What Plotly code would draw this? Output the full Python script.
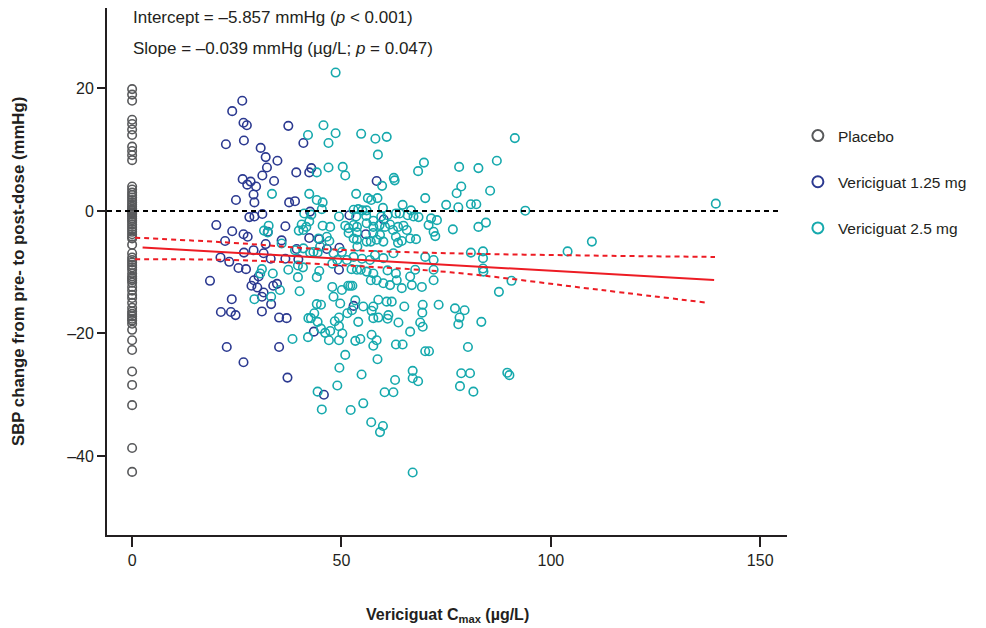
import plotly.graph_objects as go

# ---------------- data ----------------
placebo_y = [19.9, 19.0, 18.0, 14.9, 14.2, 13.3, 12.4, 10.5, 9.8, 9.1, 8.3,
             4.0, 3.5, 3.0, 2.6, 2.2, 1.8, 1.4, 1.0, 0.7, 0.4, 0.2, 0.0, -0.2, -0.4,
             -0.6, -0.9, -1.2, -1.5, -1.8, -2.2, -2.6, -3.0, -3.4, -3.8, -4.2, -4.5,
             -5.5, -6.9, -7.6, -8.0, -8.4, -8.8, -9.2, -9.6, -10.2, -10.7, -11.0, -11.3,
             -11.7, -12.4, -13.0, -13.7, -14.2, -15.0, -15.8, -16.4, -16.8, -17.2, -17.6,
             -17.9, -18.4, -19.4, -21.1, -22.7, -26.2, -28.4, -31.7, -38.7, -42.6]
placebo_x = [0] * len(placebo_y)

low_x = [26.3, 23.9, 26.6, 27.4, 22.4, 26.7, 30.7, 31.9, 34.7, 32.2, 31.1, 33.9,
         26.4, 27.5, 28.3, 29.6, 29.0, 29.2, 24.8, 37.3, 40.9, 39.2, 42.3, 42.8,
         37.5, 38.9, 42.5, 58.4, 51.9, 60.1, 55.8, 28.0, 29.2, 31.1, 20.1, 23.9,
         26.6, 27.6, 32.4, 36.6, 22.2, 31.9, 35.7, 42.3, 44.7, 26.7, 29.0, 31.4,
         21.1, 23.2, 25.4, 27.2, 33.1, 36.6, 39.3, 39.7, 46.5, 49.5, 49.4, 18.6,
         29.1, 30.2, 29.9, 31.4, 28.5, 33.7, 34.6, 23.8, 31.0, 33.2, 52.9,
         21.2, 23.6, 24.7, 31.0, 35.1, 36.9, 22.6, 35.1, 26.6, 37.1, 43.4, 45.8]
low_y = [18.0, 16.3, 14.4, 14.0, 10.9, 11.5, 10.3, 8.8, 8.2, 7.1, 5.8, 4.9,
         5.2, 4.3, 4.8, 4.0, 2.7, 1.4, 1.8, 13.9, 11.1, 6.3, 6.3, 7.0,
         1.4, 1.6, -0.1, 4.9, -0.7, -1.4, -3.8, -1.0, -0.9, -0.5, -2.3, -3.3,
         -3.8, -4.2, -3.4, -2.5, -4.9, -5.4, -4.8, -4.4, -4.6, -6.8, -6.4, -6.9,
         -7.6, -8.3, -9.3, -9.5, -7.8, -7.8, -6.2, -7.9, -6.2, -6.0, -9.6, -11.4,
         -11.3, -10.7, -12.5, -13.3, -12.2, -12.2, -11.9, -14.4, -14.0, -15.2, -15.5,
         -16.5, -16.5, -17.0, -16.4, -17.4, -17.5, -22.2, -22.2, -24.7, -27.2, -19.7, -30.0]

high_x = [48.6, 45.7, 42.0, 48.6, 46.9, 54.7, 58.1, 60.8, 58.7, 46.9, 50.3, 50.9,
          44.1, 62.5, 62.7, 59.7, 68.3, 69.7, 33.4, 42.3, 44.1, 45.5, 45.3, 53.5,
          56.3, 57.1, 58.6, 59.9, 64.6, 66.6, 70.0, 75.0, 41.1, 42.8, 49.4, 52.9,
          54.0, 55.0, 56.0, 53.5, 55.9, 57.6, 59.5, 61.0, 63.0, 63.9, 65.8, 67.2,
          68.4, 71.4, 72.8, 42.3, 40.5, 41.6, 40.9, 39.8, 32.6, 31.5, 32.4, 45.5,
          47.3, 50.9, 51.7, 52.9, 53.7, 51.7, 53.7, 52.9, 56.0, 57.6, 59.1, 60.4,
          61.6, 62.3, 63.5, 64.8, 65.6, 70.8, 72.0, 72.4, 57.6, 59.2, 58.4, 60.0,
          57.0, 56.0, 53.7, 53.8, 44.5, 46.5, 47.1, 35.7, 38.9, 40.9, 42.5, 43.3,
          44.9, 44.3, 48.1, 50.1, 49.0, 51.3, 52.9, 54.9, 56.8, 58.0, 60.0, 62.4,
          63.5, 64.4, 63.0, 66.4, 67.8, 70.0, 72.0, 72.0, 67.6, 66.4, 69.2, 72.0,
          31.0, 30.6, 33.6, 35.3, 37.3, 39.6, 39.6, 40.0, 29.2, 33.2,
          40.8, 44.1, 44.7, 47.8, 47.8, 50.1, 51.6, 52.1, 52.6,
          52.4, 53.7, 54.6, 56.0, 57.6, 57.0, 58.4, 60.0, 61.6, 63.2, 64.4, 66.8,
          63.0, 61.0, 45.1, 48.1, 49.7, 53.3, 55.2, 57.6, 58.8, 60.8, 62.0, 65.0,
          69.4, 73.2, 57.2, 57.6, 58.8, 61.0, 61.2, 69.3, 51.4, 52.5, 49.4, 54.0,
          48.4, 49.4, 50.2, 49.4, 42.1, 42.7, 43.5, 44.3, 45.1, 46.1, 47.3, 47.0,
          44.1, 42.0, 38.3, 53.3, 54.5, 57.2, 58.4, 57.6, 63.6, 66.4, 68.8, 69.4,
          63.0, 64.6, 70.0, 70.9, 50.9, 58.6, 49.5, 54.8, 62.8, 67.0, 67.0, 68.3,
          49.0, 44.3, 45.3, 52.2, 55.2, 60.3, 62.4, 57.1, 59.9, 59.2, 67.0,
          80.9, 83.8, 83.8, 83.8, 83.9, 104.0, 90.6, 87.6, 77.1, 79.4, 78.2, 77.9,
          83.4, 80.2, 78.6, 80.7, 78.3, 81.5, 89.6, 90.1,
          91.4, 87.1, 82.7, 78.1, 85.5, 78.6, 77.5, 77.9, 80.9, 82.2, 93.9, 82.7,
          84.5, 76.6, 109.8, 139.4]
high_y = [22.6, 14.0, 12.4, 12.7, 11.1, 12.6, 11.8, 12.1, 9.2, 7.1, 7.2, 5.8,
          6.3, 5.4, 5.0, 4.1, 6.5, 7.9, 2.8, 2.8, 1.8, 1.4, 0.3, 2.8,
          2.1, 1.8, 2.1, 0.5, 1.0, 0.1, 2.1, 1.0, -0.4, -0.6, -0.9, 0.2,
          0.3, 0.1, 0.1, -0.9, -0.8, -1.6, -0.9, -0.7, -0.4, -0.4, -0.7, -0.9,
          -1.0, -1.2, -1.5, -1.7, -2.2, -2.6, -3.1, -3.2, -2.4, -3.2, -3.5, -2.4,
          -2.6, -2.4, -2.8, -2.3, -2.6, -3.6, -3.5, -4.5, -2.0, -2.6, -2.3, -2.6,
          -2.2, -3.1, -2.6, -2.4, -3.1, -2.3, -3.4, -4.1, -3.6, -3.9, -4.7, -5.0,
          -5.0, -5.0, -4.7, -5.8, -4.5, -4.2, -4.9, -5.3, -6.4, -6.1, -6.8, -6.7,
          -5.8, -6.8, -6.9, -6.7, -8.0, -8.0, -7.5, -7.8, -8.0, -7.2, -7.7, -6.9,
          -5.2, -4.9, -4.2, -4.5, -4.6, -7.5, -8.0, -9.6, -9.6, -10.7, -12.4, -11.3,
          -9.5, -10.2, -10.2, -12.9, -9.6, -8.9, -10.8, -13.1, -14.4, -14.0,
          -9.2, -10.8, -9.8, -8.6, -12.4, -12.9, -12.2, -12.2, -12.2,
          -9.5, -9.6, -9.6, -9.9, -10.2, -11.3, -11.3, -11.8, -12.1, -11.3, -12.6, -12.1,
          -10.2, -9.7, -15.3, -14.0, -15.1, -14.6, -15.6, -15.6, -14.5, -14.8, -14.8, -15.6,
          -15.3, -15.3, -16.3, -17.5, -17.4, -17.6, -17.0, -16.6, -16.7, -16.2, -17.4, -18.1,
          -18.0, -18.8, -20.0, -21.1, -17.5, -17.5, -16.7, -18.1, -19.2, -19.9, -19.6, -21.1,
          -15.2, -20.6, -20.9, -21.2, -20.9, -20.2, -21.1, -22.0, -18.2, -19.7, -18.2, -18.9,
          -21.8, -21.8, -22.9, -22.9, -23.5, -24.2, -25.6, -26.7, -27.6, -26.1, -27.3, -27.8,
          -28.5, -29.5, -32.4, -32.5, -31.4, -29.6, -29.6, -34.5, -35.1, -36.1, -42.7,
          -6.8, -6.6, -7.7, -9.4, -9.9, -6.6, -11.4, -13.2, -15.9, -16.2, -17.4, -18.5,
          -18.1, -22.2, -26.5, -26.5, -28.6, -29.5, -26.4, -26.8,
          11.9, 8.2, 7.0, 7.2, 3.3, 4.0, 2.9, 0.6, 1.1, 1.1, 0.05, -2.6,
          -1.9, -3.0, -5.0, 1.2]

fit_x = [2.5, 139.0]
fit_y = [-5.95, -11.28]
ci_up_x = [0.7, 24.0, 40.0, 48.0, 76.0, 112.0, 139.2]
ci_up_y = [-4.35, -5.2, -6.0, -6.3, -6.9, -7.3, -7.5]
ci_lo_x = [0.7, 24.0, 48.0, 76.0, 112.0, 137.6]
ci_lo_y = [-7.9, -8.0, -8.8, -10.0, -12.9, -15.0]
zero_x = [-6.0, 155.0]
zero_y = [0, 0]

x_ticks = [0, 50, 100, 150]
x_ticklabels = ["0", "50", "100", "150"]
y_ticks = [20, 0, -20, -40]
y_ticklabels = ["20", "0", "\u201320", "\u201340"]

names = ["Placebo", "Vericiguat 1.25 mg", "Vericiguat 2.5 mg"]
colors = ["#58595b", "#2b3990", "#16a9ad"]

# ---------------- figure ----------------
FONT = "Liberation Sans, Arial, sans-serif"
RED = "#ed1c24"
INK = "#231f20"
PLOT_H = 527  # plot area height in px

fig = go.Figure()
for i, (xs, ys) in enumerate([(placebo_x, placebo_y), (low_x, low_y), (high_x, high_y)]):
    fig.add_trace(go.Scatter(
        x=xs, y=ys, mode="markers", name=names[i], legendgroup=names[i],
        showlegend=False,
        marker=dict(symbol="circle-open", size=8.5, color=colors[i],
                    line=dict(width=1.6, color=colors[i])),
    ))
    # legend entry with a slightly larger symbol (as in the reference legend)
    fig.add_trace(go.Scatter(
        x=[None], y=[None], mode="markers", name=names[i], legendgroup=names[i],
        marker=dict(symbol="circle-open", size=11, color=colors[i],
                    line=dict(width=2, color=colors[i])),
    ))

fig.add_trace(go.Scatter(x=zero_x, y=zero_y, mode="lines", showlegend=False,
                         line=dict(color="black", width=2, dash="5px,4px")))
fig.add_trace(go.Scatter(x=ci_up_x, y=ci_up_y, mode="lines", showlegend=False,
                         line=dict(color=RED, width=2, dash="5px,4px", shape="spline")))
fig.add_trace(go.Scatter(x=ci_lo_x, y=ci_lo_y, mode="lines", showlegend=False,
                         line=dict(color=RED, width=2, dash="5px,4px", shape="spline")))
fig.add_trace(go.Scatter(x=fit_x, y=fit_y, mode="lines", showlegend=False,
                         line=dict(color=RED, width=2)))

fig.update_layout(
    width=978, height=620,
    margin=dict(l=99, r=199, t=0, b=93),
    paper_bgcolor="white", plot_bgcolor="white",
    font=dict(family=FONT, size=16, color=INK),
    showlegend=True,
    legend=dict(x=1.016, xanchor="left", y=1 - 111 / PLOT_H, yanchor="top",
                font=dict(family=FONT, size=15.5, color=INK),
                tracegroupgap=23, itemsizing="trace",
                bgcolor="rgba(0,0,0,0)"),
    xaxis=dict(range=[-6.0, 156.4], showgrid=False, zeroline=False,
               showline=True, linecolor=INK, linewidth=1.8,
               ticks="outside", ticklen=10, tickwidth=1.8, tickcolor=INK,
               tickvals=x_ticks, ticktext=x_ticklabels,
               tickfont=dict(family=FONT, size=16, color=INK)),
    yaxis=dict(range=[-52.9, 33.14], showgrid=False, zeroline=False,
               showline=True, linecolor=INK, linewidth=1.8,
               ticks="outside", ticklen=8, tickwidth=1.8, tickcolor=INK,
               tickvals=y_ticks, ticktext=y_ticklabels,
               tickfont=dict(family=FONT, size=16, color=INK)),
    annotations=[
        dict(text="Intercept = \u20135.857 mmHg (<i>p</i> < 0.001)", xref="paper", yref="paper",
             x=0.035, y=1 - 10 / PLOT_H, xanchor="left", yanchor="middle", showarrow=False,
             font=dict(family=FONT, size=17, color=INK)),
        dict(text="Slope = \u20130.039 mmHg (\u00b5g/L; <i>p</i> = 0.047)", xref="paper", yref="paper",
             x=0.035, y=1 - 40 / PLOT_H, xanchor="left", yanchor="middle", showarrow=False,
             font=dict(family=FONT, size=17, color=INK)),
        dict(text="<b>SBP change from pre- to post-dose (mmHg)</b>", xref="paper", yref="paper",
             x=(18 - 107) / 680, y=1 - 264 / PLOT_H, xanchor="center", yanchor="middle",
             textangle=-90, showarrow=False,
             font=dict(family=FONT, size=16.8, color=INK)),
        dict(text="<b>Vericiguat C<sub>max</sub> (\u00b5g/L)</b>", xref="paper", yref="paper",
             x=0.5, y=-80 / PLOT_H, xanchor="center", yanchor="middle", showarrow=False,
             font=dict(family=FONT, size=16, color=INK)),
    ],
)

fig.write_html("out.html")
